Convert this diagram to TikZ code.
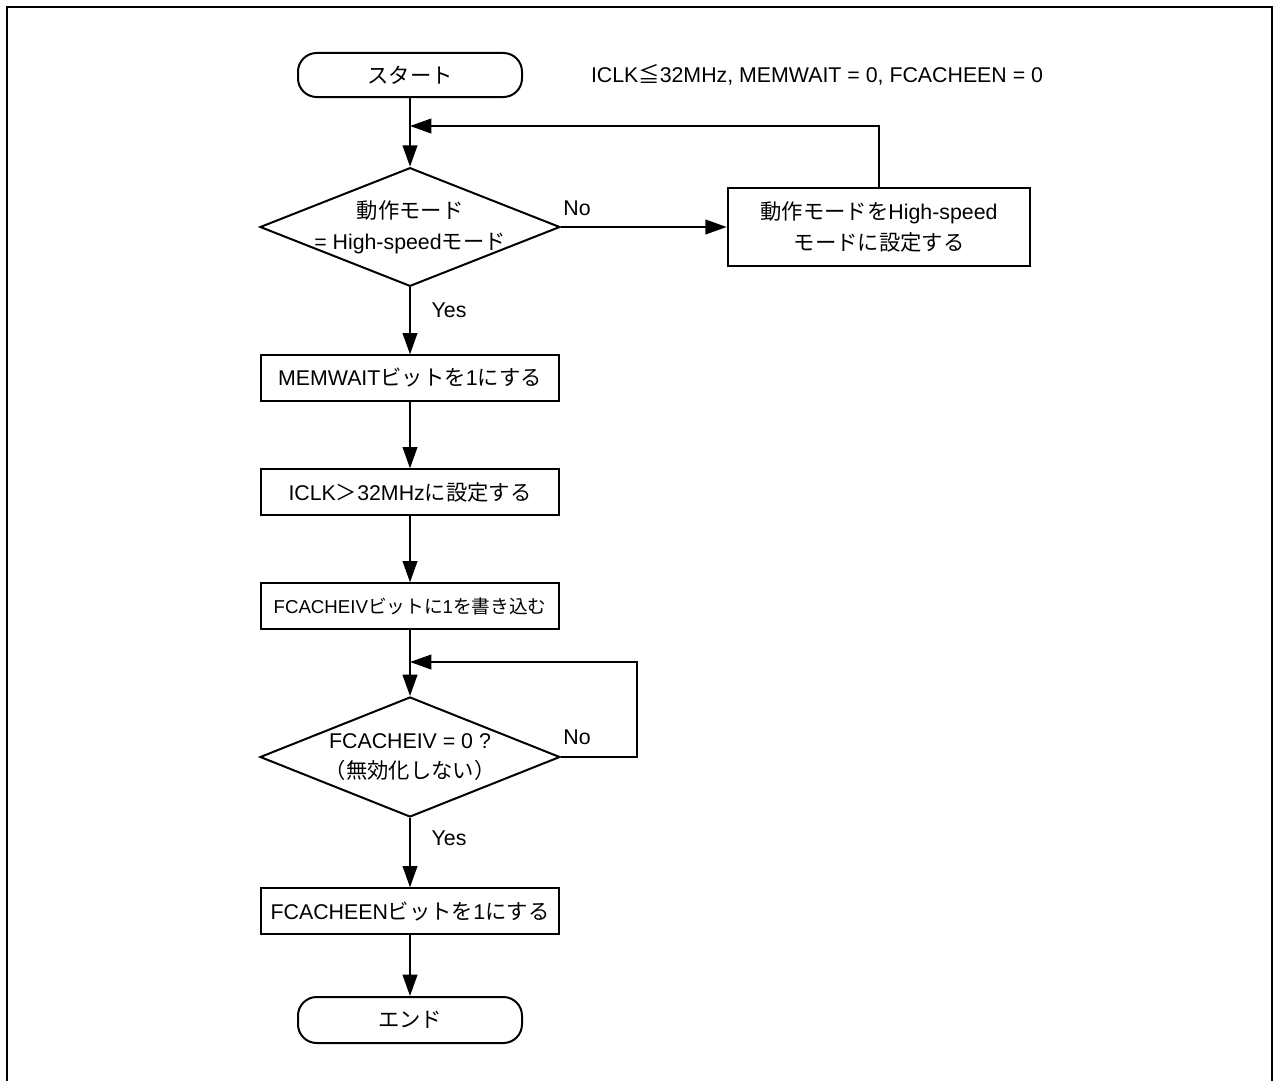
\documentclass[tikz,border=0pt]{standalone}
\usepackage{fontspec}
\setmainfont{Liberation Sans}
\newfontfamily\jpfont{Noto Sans CJK JP}
\newcommand{\jp}[1]{{\jpfont #1}}
\usetikzlibrary{shapes.geometric,arrows.meta}

\begin{document}
\begin{tikzpicture}[x=0.75pt,y=-0.75pt,
		font=\fontsize{16}{23}\selectfont,
		line width=1.5pt,
		>={Triangle[length=16pt,width=11pt]},
		term/.style={draw,rectangle,rounded corners=14pt,minimum width=168pt,minimum height=33pt,inner sep=0pt},
		proc/.style={draw,rectangle,minimum width=223.5pt,minimum height=34pt,inner sep=0pt,align=center},
		decide/.style={draw,diamond,minimum width=225pt,minimum height=89pt,inner sep=0pt},
		lbl/.style={inner sep=0pt,align=center}]
		\useasboundingbox (0,0) rectangle (1280,1081);

		%frame
		\draw (7,1081) -- (7,7) -- (1272,7) -- (1272,1081);

		%main column
		\node[term] (start) at (410,75) {\jp{スタート}};
		\node[lbl,anchor=west] (cond) at (590,75) {ICLK\jp{≦}32MHz, MEMWAIT = 0, FCACHEEN = 0};
		\coordinate (j1) at (410,126);

		\node[decide] (d1) at (410,227) {};
		\node[lbl] (d1txt) at (410,227) {\jp{動作モード}\\= High-speed\jp{モード}};
		\node[lbl] (no1) at (577,208) {No};
		\node[lbl] (yes1) at (449,310) {Yes};

		\node[proc,minimum width=227pt,minimum height=58pt] (s1) at (879,227) {\jp{動作モードを}High-speed\\\jp{モードに設定する}};

		\node[proc] (b1) at (410,378) {MEMWAIT\jp{ビットを}1\jp{にする}};
		\node[proc] (b2) at (410,492) {ICLK\jp{＞}32MHz\jp{に設定する}};
		\node[proc,font=\fontsize{14}{16}\selectfont] (b3) at (410,606) {FCACHEIV\jp{ビットに}1\jp{を書き込む}};
		\coordinate (j2) at (410,662);
		\coordinate (c2) at (637,662);

		\node[decide,minimum height=90pt] (d2) at (410,757) {};
		\node[lbl] (d2txt) at (410,757) {FCACHEIV = 0 ?\\\jp{（無効化しない）}};
		\node[lbl] (no2) at (577,737) {No};
		\node[lbl] (yes2) at (449,838) {Yes};

		\node[proc] (b4) at (410,911) {FCACHEEN\jp{ビットを}1\jp{にする}};
		\node[term,minimum height=34.5pt] (end) at (410,1020) {\jp{エンド}};

		%connectors
		\draw[->] (start) -- (d1);
		\draw[->] (d1) -- (s1);
		\draw[->] (s1.north) |- (j1);
		\draw[->] (d1) -- (b1);
		\draw[->] (b1) -- (b2);
		\draw[->] (b2) -- (b3);
		\draw[->] (b3) -- (d2);
		\draw[->] (d2.east) -| (c2) -- (j2);
		\draw[->] (d2) -- (b4);
		\draw[->] (b4) -- (end);

	\end{tikzpicture}
\end{document}
